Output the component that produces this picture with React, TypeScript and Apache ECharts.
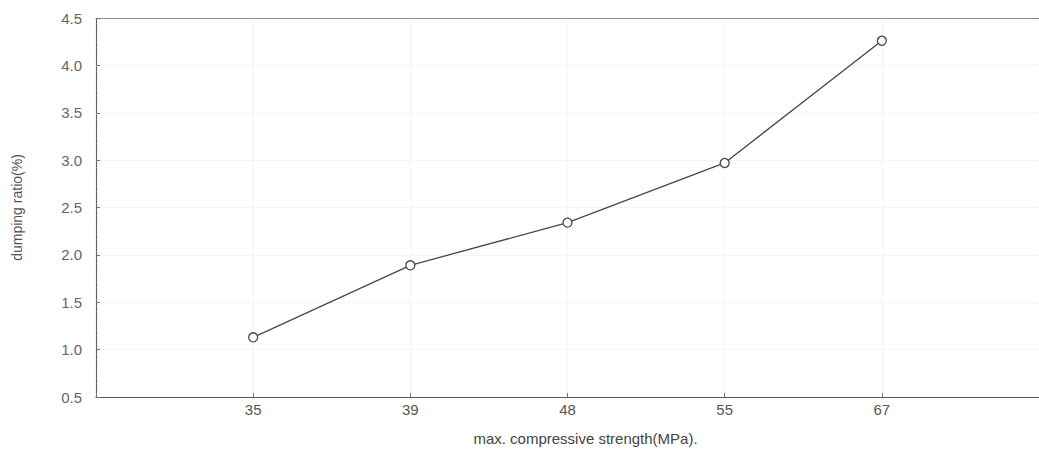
import React, { useEffect, useRef } from "react";
import * as echarts from "echarts";

const categories = ["", "35", "39", "48", "55", "67", ""];
const dampingRatio = [null, 1.13, 1.89, 2.34, 2.97, 4.26, null];
const yTicks = { min: 0.5, max: 4.5, interval: 0.5 };
const xName = "max. compressive strength(MPa).";
const yName = "dumping ratio(%)";

export default function App() {
  const ref = useRef<HTMLDivElement>(null);
  useEffect(() => {
    if (!ref.current) return;
    const chart = echarts.init(ref.current, null, { renderer: "svg" });
    const font = "Liberation Sans, Arial, sans-serif";
    chart.setOption({
      animation: false,
      backgroundColor: "#ffffff",
      grid: { left: 96, top: 18, right: 0, bottom: 56, outerBoundsMode: "none", containLabel: false },
      xAxis: [
        {
          type: "category",
          data: categories,
          boundaryGap: false,
          position: "bottom",
          name: xName,
          nameLocation: "middle",
          nameGap: 34,
          nameTextStyle: { fontFamily: font, fontSize: 15, color: "#444", padding: [0, 0, 0, 36] },
          axisLine: { lineStyle: { color: "#555", width: 1.2 } },
          axisTick: { show: true, inside: true, length: 4, lineStyle: { color: "#777" } },
          axisLabel: { fontFamily: font, fontSize: 15, color: "#555", margin: 5, interval: 0 },
          splitLine: {
            show: true,
            interval: (i: number) => i > 0 && i < categories.length - 1,
            lineStyle: { color: "#eeeeee", type: "dotted" },
          },
        },
        {
          type: "category",
          data: categories,
          boundaryGap: false,
          position: "top",
          axisLine: { lineStyle: { color: "#777", width: 1, type: "dotted" } },
          axisTick: { show: false },
          axisLabel: { show: false },
          splitLine: { show: false },
        },
      ],
      yAxis: {
        type: "value",
        min: yTicks.min,
        max: yTicks.max,
        interval: yTicks.interval,
        name: yName,
        nameLocation: "middle",
        nameGap: 72,
        nameRotate: 90,
        nameTextStyle: { fontFamily: font, fontSize: 14, color: "#555" },
        axisLine: { show: true, lineStyle: { color: "#555", width: 1.2, type: "dotted" } },
        axisTick: { show: true, inside: true, length: 4, lineStyle: { color: "#777" } },
        axisLabel: {
          fontFamily: font,
          fontSize: 15,
          color: "#666",
          margin: 14,
          formatter: (v: number) => v.toFixed(1),
        },
        splitLine: { show: true, lineStyle: { color: "#ececec", type: "dotted" } },
      },
      series: [
        {
          type: "line",
          data: dampingRatio,
          connectNulls: false,
          symbol: "circle",
          symbolSize: 9,
          showSymbol: true,
          lineStyle: { color: "#4a4450", width: 1.3 },
          itemStyle: { color: "#ffffff", borderColor: "#4a4450", borderWidth: 1.3 },
        },
      ],
    });
    return () => chart.dispose();
  }, []);
  return (
    <div
      ref={ref}
      style={{ position: "fixed", left: 0, top: 0, width: 1039, height: 453 }}
    />
  );
}
